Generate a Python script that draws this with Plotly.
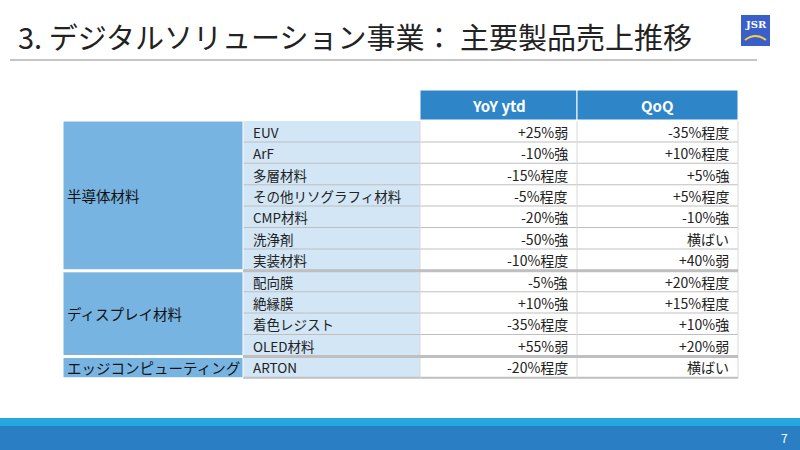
import plotly.graph_objects as go

title = "3. デジタルソリューション事業： 主要製品売上推移"
headers = ["YoY ytd", "QoQ"]
groups = ["半導体材料", "ディスプレイ材料", "エッジコンピューティング"]
group_sizes = [7, 4, 1]
products = ["EUV", "ArF", "多層材料", "その他リソグラフィ材料", "CMP材料", "洗浄剤", "実装材料",
            "配向膜", "絶縁膜", "着色レジスト", "OLED材料", "ARTON"]
yoy = ["+25%弱", "-10%強", "-15%程度", "-5%程度", "-20%強", "-50%強", "-10%程度",
       "-5%強", "+10%強", "-35%程度", "+55%弱", "-20%程度"]
qoq = ["-35%程度", "+10%程度", "+5%強", "+5%程度", "-10%強", "横ばい", "+40%弱",
       "+20%程度", "+15%程度", "+10%強", "+20%弱", "横ばい"]

F = "Noto Sans CJK JP"
fig = go.Figure()
shapes, ann = [], []
X = [63, 243, 420, 577, 738]
top, rh = 121, 21.4
hdr_top = 90

for i, h in enumerate(headers):
    shapes.append(dict(type="rect", x0=X[2+i], x1=X[3+i], y0=hdr_top, y1=top-1,
                       fillcolor="#2e86c8", line=dict(color="white", width=1)))
    ann.append(dict(x=(X[2+i]+X[3+i])/2, y=(hdr_top+top)/2, text="<b>%s</b>" % h,
                    showarrow=False, font=dict(family=F, size=15, color="white")))
for r, p in enumerate(products):
    y0 = top + r*rh; y1 = y0 + rh
    shapes.append(dict(type="rect", x0=X[1], x1=X[2], y0=y0, y1=y1, fillcolor="#d2e6f6", line_width=0))
    shapes.append(dict(type="rect", x0=X[2], x1=X[4], y0=y0, y1=y1, fillcolor="white", line_width=0))
    ann.append(dict(x=X[1]+8, y=(y0+y1)/2, text=p, xanchor="left", showarrow=False,
                    font=dict(family=F, size=13.5, color="#222")))
    ann.append(dict(x=X[3]-7, y=(y0+y1)/2, text=yoy[r], xanchor="right", showarrow=False,
                    font=dict(family=F, size=14, color="#222")))
    ann.append(dict(x=X[4]-7, y=(y0+y1)/2, text=qoq[r], xanchor="right", showarrow=False,
                    font=dict(family=F, size=14, color="#222")))
    shapes.append(dict(type="line", x0=X[1], x1=X[4], y0=y1, y1=y1, line=dict(color="#bfbfbf", width=2)))
for xv in X[2:]:
    shapes.append(dict(type="line", x0=xv, x1=xv, y0=top, y1=top+12*rh, line=dict(color="#d8d8d8", width=1)))
start = 0
for g, n in zip(groups, group_sizes):
    y0 = top + start*rh; y1 = y0 + n*rh
    shapes.append(dict(type="rect", x0=X[0], x1=X[1], y0=y0, y1=y1, fillcolor="#78b4e2",
                       line=dict(color="white", width=1)))
    ann.append(dict(x=X[0]+2, y=(y0+y1)/2, text=g, xanchor="left", showarrow=False,
                    font=dict(family=F, size=14.5, color="#111")))
    if start > 0:
        shapes.append(dict(type="line", x0=X[0], x1=X[4], y0=y0, y1=y0, line=dict(color="#bfbfbf", width=3)))
        shapes.append(dict(type="line", x0=X[0], x1=X[1], y0=y0, y1=y0, line=dict(color="white", width=3)))
    start += n

ann.append(dict(x=16, y=36, text=title, xanchor="left", showarrow=False,
                font=dict(family=F, size=29, color="#222")))
shapes.append(dict(type="line", x0=10, x1=757, y0=60, y1=60, line=dict(color="#8a8a8a", width=1)))
shapes.append(dict(type="rect", x0=741, x1=770, y0=15, y1=46, fillcolor="#3a5fc8", line_width=0))
ann.append(dict(x=755.5, y=24, text="<b>JSR</b>", showarrow=False,
                font=dict(family="DejaVu Serif", size=10, color="white")))
shapes.append(dict(type="path", path="M 745 40 Q 755.5 32 766 40", line=dict(color="#f2d04a", width=2)))
shapes.append(dict(type="rect", x0=0, x1=800, y0=418, y1=426, fillcolor="#25a8e0", line_width=0))
shapes.append(dict(type="rect", x0=0, x1=800, y0=426, y1=450, fillcolor="#2a7fc4", line_width=0))
ann.append(dict(x=784, y=437, text="7", showarrow=False, font=dict(family=F, size=12, color="white")))

fig.update_layout(width=800, height=450, margin=dict(l=0, r=0, t=0, b=0),
                  paper_bgcolor="white", plot_bgcolor="white", shapes=shapes, annotations=ann,
                  xaxis=dict(range=[0, 800], visible=False, fixedrange=True),
                  yaxis=dict(range=[450, 0], visible=False, fixedrange=True),
                  showlegend=False)
fig.write_html("out.html", config={"displayModeBar": False},
               post_script="document.body.style.margin='0';document.body.style.overflow='hidden';")
